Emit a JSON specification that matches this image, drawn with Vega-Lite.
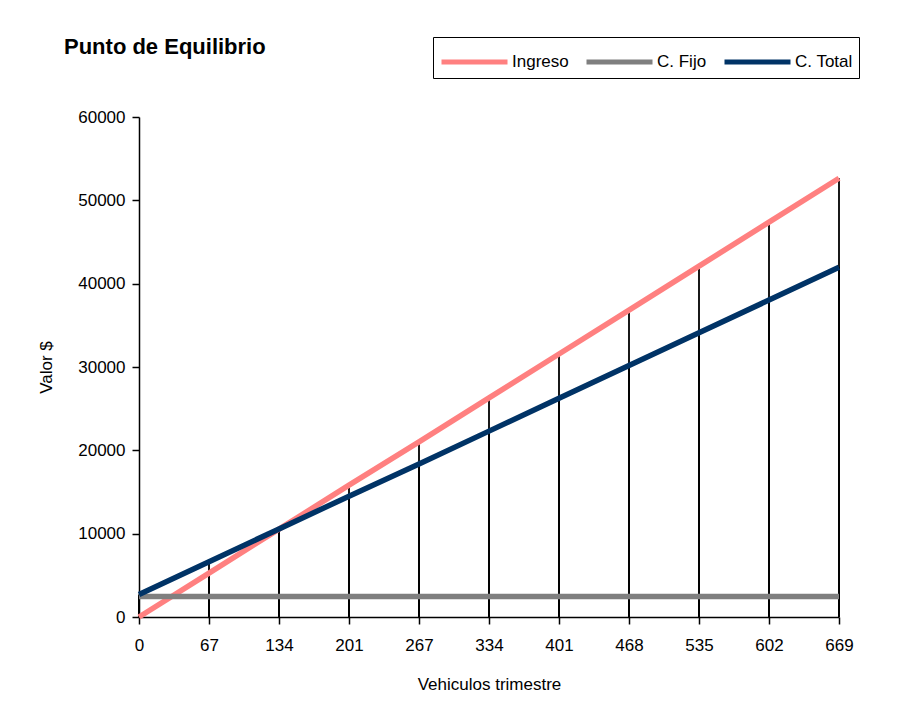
{
  "$schema": "https://vega.github.io/schema/vega-lite/v6.json",
  "autosize": "none",
  "width": 700,
  "height": 500,
  "padding": {"left": 139, "top": 117, "right": 60, "bottom": 96},
  "background": "white",
  "config": {
    "font": "Liberation Sans",
    "view": {"stroke": null},
    "axis": {"labelFont": "Liberation Sans", "titleFont": "Liberation Sans", "labelColor": "black", "titleColor": "black", "domainColor": "black", "tickColor": "black", "labelFontSize": 17, "titleFontSize": 17, "titleFontWeight": "normal", "grid": false, "domainWidth": 1.5, "tickWidth": 1.5}
  },
  "title": {"text": "Punto de Equilibrio", "anchor": "start", "frame": "group", "dx": -75, "offset": 0, "baseline": "alphabetic", "dy": 39, "fontSize": 22, "fontWeight": "bold", "font": "Liberation Sans", "color": "black"},
  "data": {"values": [
    {"q": 0, "serie": "Ingreso", "valor": 0},
    {"q": 67, "serie": "Ingreso", "valor": 5273},
    {"q": 134, "serie": "Ingreso", "valor": 10546},
    {"q": 201, "serie": "Ingreso", "valor": 15819},
    {"q": 267, "serie": "Ingreso", "valor": 21013},
    {"q": 334, "serie": "Ingreso", "valor": 26286},
    {"q": 401, "serie": "Ingreso", "valor": 31559},
    {"q": 468, "serie": "Ingreso", "valor": 36832},
    {"q": 535, "serie": "Ingreso", "valor": 42105},
    {"q": 602, "serie": "Ingreso", "valor": 47377},
    {"q": 669, "serie": "Ingreso", "valor": 52650},
    {"q": 0, "serie": "C. Fijo", "valor": 2450},
    {"q": 67, "serie": "C. Fijo", "valor": 2450},
    {"q": 134, "serie": "C. Fijo", "valor": 2450},
    {"q": 201, "serie": "C. Fijo", "valor": 2450},
    {"q": 267, "serie": "C. Fijo", "valor": 2450},
    {"q": 334, "serie": "C. Fijo", "valor": 2450},
    {"q": 401, "serie": "C. Fijo", "valor": 2450},
    {"q": 468, "serie": "C. Fijo", "valor": 2450},
    {"q": 535, "serie": "C. Fijo", "valor": 2450},
    {"q": 602, "serie": "C. Fijo", "valor": 2450},
    {"q": 669, "serie": "C. Fijo", "valor": 2450},
    {"q": 0, "serie": "C. Total", "valor": 2700},
    {"q": 67, "serie": "C. Total", "valor": 6633},
    {"q": 134, "serie": "C. Total", "valor": 10566},
    {"q": 201, "serie": "C. Total", "valor": 14499},
    {"q": 267, "serie": "C. Total", "valor": 18373},
    {"q": 334, "serie": "C. Total", "valor": 22306},
    {"q": 401, "serie": "C. Total", "valor": 26239},
    {"q": 468, "serie": "C. Total", "valor": 30172},
    {"q": 535, "serie": "C. Total", "valor": 34105},
    {"q": 602, "serie": "C. Total", "valor": 38037},
    {"q": 669, "serie": "C. Total", "valor": 41970}
  ]},
  "encoding": {
    "x": {"field": "q", "type": "ordinal", "scale": {"type": "point", "padding": 0}, "axis": {"title": "Vehiculos trimestre", "labelAngle": 0, "tickSize": 7, "labelPadding": 13, "titlePadding": 23}},
    "y": {"field": "valor", "type": "quantitative", "scale": {"domain": [0, 60000], "nice": false}, "axis": {"title": "Valor $", "values": [0, 10000, 20000, 30000, 40000, 50000, 60000], "format": "d", "tickSize": 7, "labelPadding": 7, "titlePadding": 22}}
  },
  "layer": [
    {"mark": {"type": "rule", "color": "black", "strokeWidth": 1.8}, "encoding": {"y2": {"datum": 0}}},
    {"mark": {"type": "line", "strokeWidth": 5.5},
     "encoding": {
       "color": {"field": "serie", "type": "nominal", "sort": ["Ingreso", "C. Fijo", "C. Total"],
         "scale": {"domain": ["Ingreso", "C. Fijo", "C. Total"], "range": ["#FF8080", "#7f7f7f", "#003366"]},
         "legend": {"title": null, "orient": "none", "legendX": 294, "legendY": -80, "direction": "horizontal", "symbolType": "M-1,0H3", "symbolSize": 1089, "symbolStrokeWidth": 5, "labelFontSize": 17, "labelFont": "Liberation Sans", "labelColor": "black", "labelOffset": 35, "columnPadding": 7, "strokeColor": "black", "padding": 6, "fillColor": "white"}
       },
       "order": {"field": "serie", "sort": "ascending"}
     }}
  ]
}
